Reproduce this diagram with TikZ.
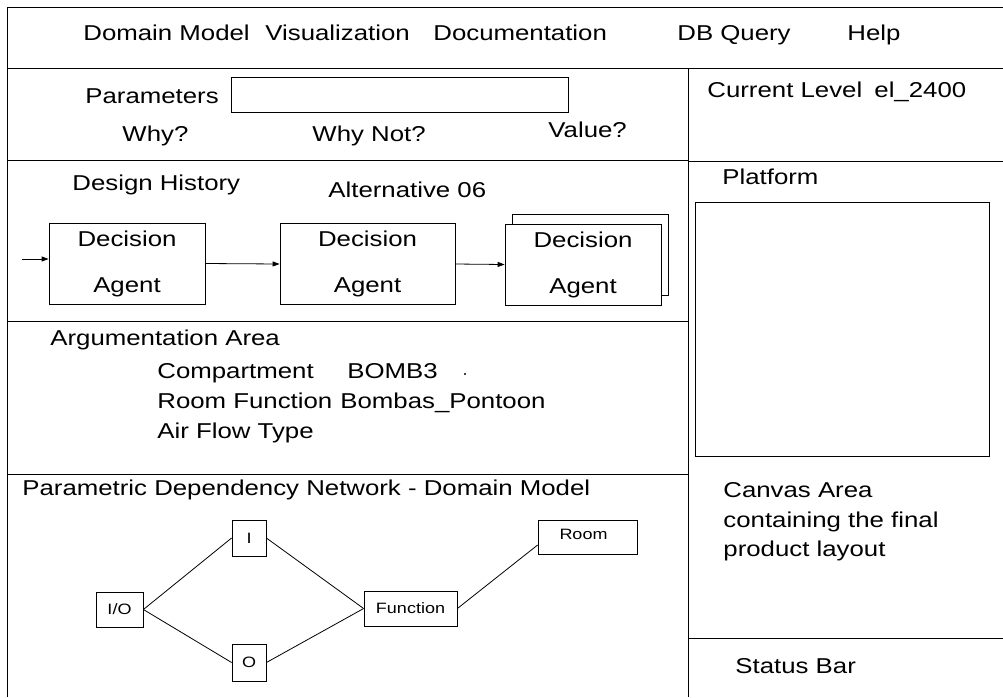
\documentclass[tikz,border=0pt]{standalone}
\usepackage{fontspec}
\setmainfont{Liberation Sans}[FakeStretch=1.2]
\usetikzlibrary{arrows.meta,shadows}
\newcommand{\uifont}{\fontsize{21.5}{26}\selectfont}
\newcommand{\pdnfont}{\fontsize{15}{18}\selectfont}

\begin{document}
\begin{tikzpicture}[x=1pt, y=-1pt, line width=0.8pt,
  txt/.style={anchor=base west, inner sep=0pt, font=\uifont},
  agent/.style={draw, fill=white, align=center, minimum width=156pt, minimum height=81pt, inner sep=0pt, font=\fontsize{21.5}{46}\selectfont},
  pdn/.style={draw, inner sep=0pt, minimum height=35pt, font=\pdnfont},
  arr/.style={-{Triangle[length=7pt,width=5pt]}}]
\useasboundingbox (0,0) rectangle (1003,697);

% frame
\draw (1003,7) -- (7,7) -- (7,697);
\draw (7,68) -- (1003,68);
\draw (688,68) -- (688,697);
\draw (7,160) -- (688,160);
\draw (688,161) -- (1003,161);
\draw (7,321) -- (688,321);
\draw (7,474) -- (688,474);
\draw (688,638) -- (1003,638);

% menu bar
\foreach \x/\t/\n in {83/Domain Model/dm, 265/Visualization/vis, 433/Documentation/doc, 677/DB Query/dbq, 847/Help/help}
  \node[txt] (\n) at (\x,40) {\t};

% parameters
\node[txt] (par) at (85,103) {Parameters};
\node[draw, anchor=north west, minimum width=337pt, minimum height=35pt] (parbox) at (231,77) {};
\node[txt] (why) at (122,141) {Why?};
\node[txt] (whynot) at (312,141) {Why Not?};
\node[txt] (value) at (548,137) {Value?};

% current level
\node[txt] (lvl) at (707,97) {Current Level};
\node[txt] (el) at (874,97) {el\_2400};

% design history
\node[txt] (dh) at (72,190) {Design History};
\node[txt] (alt) at (328,197) {Alternative 06};
\node[agent] (ag1) at (127,263.5) {Decision\\Agent};
\node[agent, minimum width=175pt] (ag2) at (367.5,264) {Decision\\Agent};
\node[agent, copy shadow={shadow xshift=7pt, shadow yshift=10pt, draw, fill=white}] (ag3) at (583,264.5) {Decision\\Agent};
\coordinate (entry) at (22,259);
\draw[arr] (entry) -- (entry -| ag1.west);
\draw[arr] (ag1.east) -- (ag2.west);
\draw[arr] (ag2.east) -- (ag3.west);

% argumentation
\node[txt] (arg) at (50,345) {Argumentation Area};
\foreach \y/\t/\n in {378/Compartment/cmp, 408/Room Function/rf, 438/Air Flow Type/aft}
  \node[txt] (\n) at (157,\y) {\t};
\node[txt] (bomb) at (347,378) {BOMB3};
\fill (465,374) circle (1.2pt);
\node[txt] (pont) at (340,408) {Bombas\_Pontoon};

% parametric dependency network
\node[txt] (pdnt) at (22,495) {Parametric Dependency Network - Domain Model};
\node[pdn, minimum width=47pt] (io) at (119.5,609.5) {I/O};
\node[pdn, minimum width=34pt, minimum height=36pt] (i) at (249,538) {I};
\node[pdn, minimum width=34pt, minimum height=37pt] (o) at (249,662.5) {O};
\node[pdn, minimum width=93pt] (fn) at (410.5,608.5) {Function};
\node[pdn, minimum width=99pt, minimum height=34pt, text depth=6pt] (room) at (587.5,537) {\hspace*{-8pt}Room};
\draw (io.east) -- (i.west);
\draw (io.east) -- (o.west);
\draw (i.east) -- (fn.west);
\draw (o.east) -- (fn.west);
\draw (fn.east) -- ([yshift=-8pt]room.west);

% canvas column
\node[txt] (plat) at (722,184) {Platform};
\node[draw, anchor=north west, minimum width=294pt, minimum height=254pt] (canvas) at (695,202) {};
\foreach \y/\t/\n in {497/Canvas Area/ca1, 527/containing the final/ca2, 556/product layout/ca3}
  \node[txt] (\n) at (723,\y) {\t};
\node[txt] (status) at (735,673) {Status Bar};
\end{tikzpicture}
\end{document}
